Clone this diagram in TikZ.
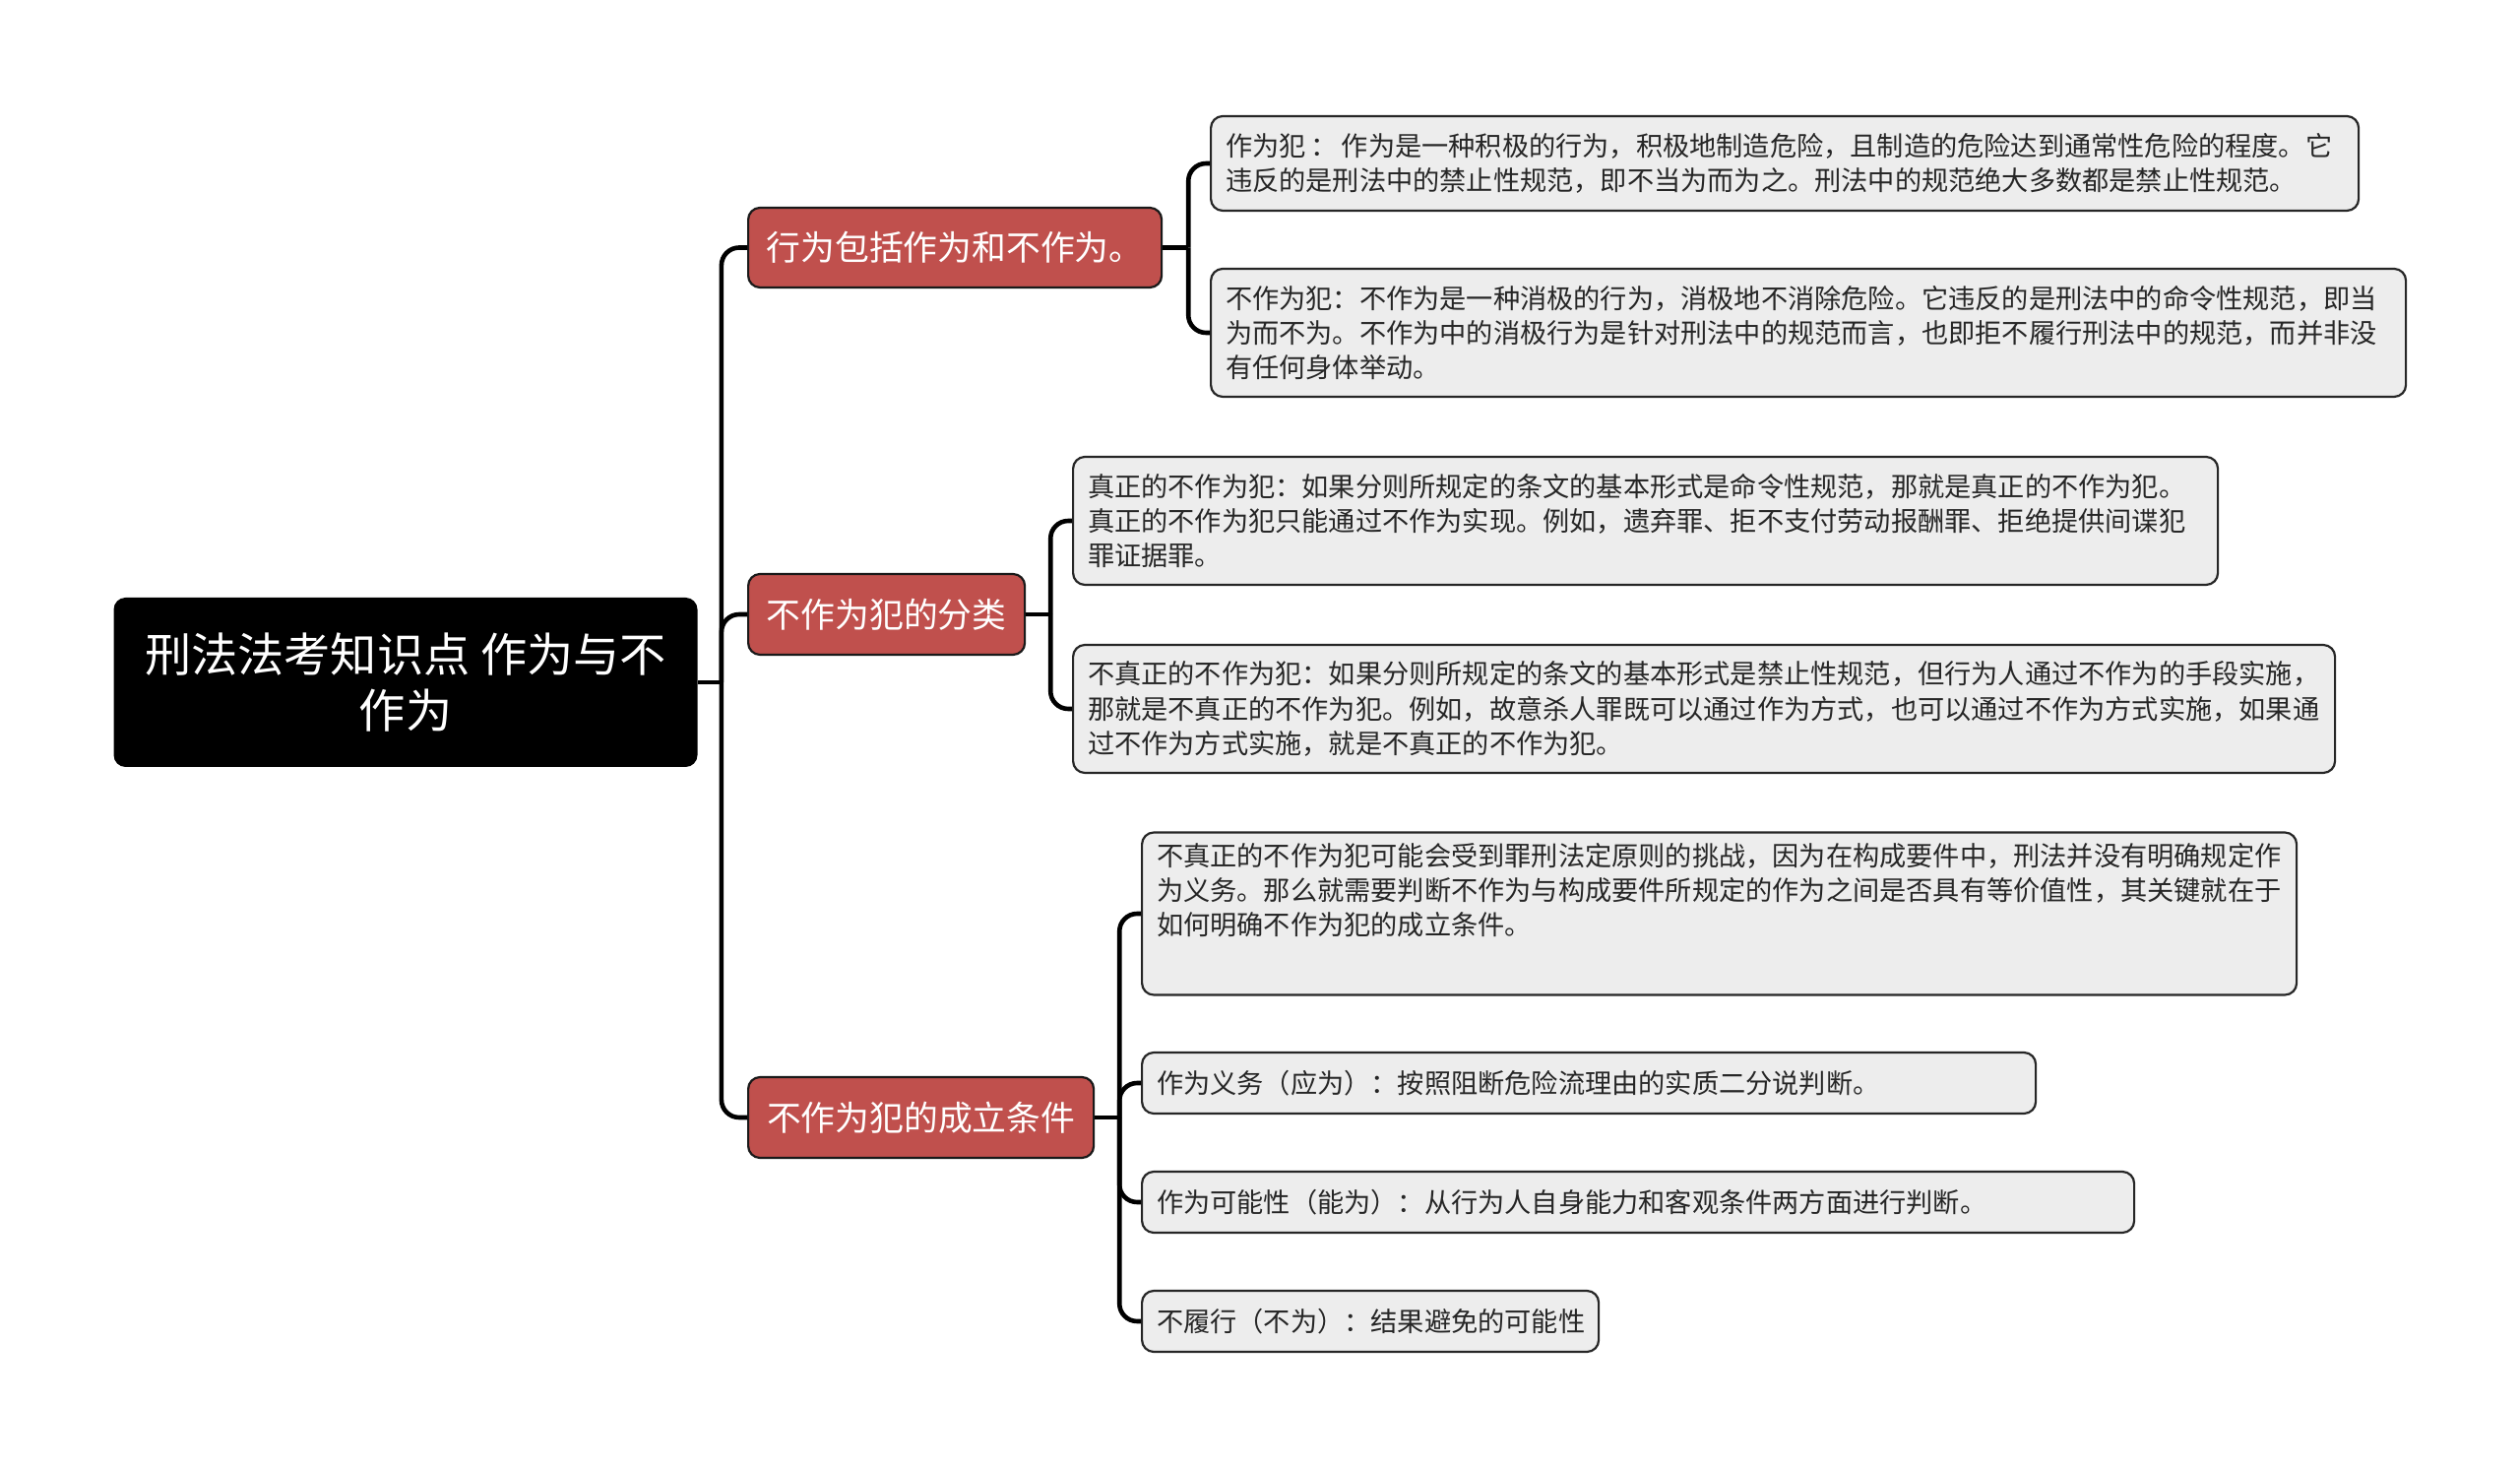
\documentclass[tikz,border=0pt]{standalone}
\usepackage{fontspec}
\setmainfont{Noto Sans CJK SC}

\definecolor{branchred}{HTML}{C0504D}
\definecolor{leafgray}{HTML}{EDEDED}

\tikzset{
    rootbox/.style={fill=black, rounded corners=6pt, text=white, align=center,
        font=\fontsize{23.6}{28.5}\selectfont, inner sep=0pt},
    branchbox/.style={draw=black!90, line width=1.1pt, fill=branchred, rounded corners=6pt,
        text=white, font=\fontsize{17.4}{20}\selectfont, inner sep=0pt, anchor=west},
    leafbox/.style={draw=black!85, line width=1.1pt, fill=leafgray, rounded corners=6pt,
        text=black!85, font=\fontsize{13.6}{17.6}\selectfont, align=left,
        inner xsep=7.5pt, inner ysep=0pt, anchor=west},
    conn/.style={line width=2.3pt, rounded corners=9pt},
}

\begin{document}
\begin{tikzpicture}[x=0.5pt, y=-0.5pt]
        \useasboundingbox (0,0) rectangle (2560,1491);

        % root and first level
        \node[rootbox, minimum width=296.5pt, minimum height=86pt] (root) at (412,693)
            {刑法法考知识点 作为与不\\作为};
        \node[branchbox, minimum width=210pt, minimum height=40.5pt] (b1) at (759,251.5) {行为包括作为和不作为。};
        \node[branchbox, minimum width=140.5pt, minimum height=41pt] (b2) at (759,624) {不作为犯的分类};
        \node[branchbox, minimum width=175.5pt, minimum height=41pt] (b3) at (759,1135) {不作为犯的成立条件};

        % leaves of b1
        \node[leafbox, text width=568pt, minimum height=48pt] (zuowei) at (1229,166)
            {作为犯\,：\,作为是一种积极的行为，积极地制造危险，且制造的危险达到通常性危险的程度。它\\
             违反的是刑法中的禁止性规范，即不当为而为之。刑法中的规范绝大多数都是禁止性规范。};
        \node[leafbox, text width=592pt, minimum height=65pt] (buzuowei) at (1229,338)
            {不作为犯：不作为是一种消极的行为，消极地不消除危险。它违反的是刑法中的命令性规范，即当\\
             为而不为。不作为中的消极行为是针对刑法中的规范而言，也即拒不履行刑法中的规范，而并非没\\
             有任何身体举动。};

        % leaves of b2
        \node[leafbox, text width=566.5pt, minimum height=65pt] (zhenzheng) at (1089,529)
            {真正的不作为犯：如果分则所规定的条文的基本形式是命令性规范，那就是真正的不作为犯。\\
             真正的不作为犯只能通过不作为实现。例如，遗弃罪、拒不支付劳动报酬罪、拒绝提供间谍犯\\
             罪证据罪。};
        \node[leafbox, text width=626pt, minimum height=65pt] (buzhenzheng) at (1089,720)
            {不真正的不作为犯：如果分则所规定的条文的基本形式是禁止性规范，但行为人通过不作为的手段实施，\\
             那就是不真正的不作为犯。例如，故意杀人罪既可以通过作为方式，也可以通过不作为方式实施，如果通\\
             过不作为方式实施，就是不真正的不作为犯。};

        % leaves of b3
        \node[leafbox, text width=571.5pt, minimum height=82.5pt] (tiaozhan) at (1159,928)
            {不真正的不作为犯可能会受到罪刑法定原则的挑战，因为在构成要件中，刑法并没有明确规定作\\
             为义务。那么就需要判断不作为与构成要件所规定的作为之间是否具有等价值性，其关键就在于\\
             如何明确不作为犯的成立条件。\\[2pt] \strut};
        \node[leafbox, text width=439pt, minimum height=31pt] (yingwei) at (1159,1100)
            {作为义务（应为）：按照阻断危险流理由的实质二分说判断。};
        \node[leafbox, text width=489pt, minimum height=31pt] (nengwei) at (1159,1221)
            {作为可能性（能为）：从行为人自身能力和客观条件两方面进行判断。};
        \node[leafbox, text width=217pt, minimum height=31pt] (buwei) at (1159,1342)
            {不履行（不为）：结果避免的可能性};

        % connectors
        \coordinate (j0) at ([xshift=12pt]root.east);
        \coordinate (j1) at ([xshift=13pt]b1.east);
        \coordinate (j2) at ([xshift=12.5pt]b2.east);
        \coordinate (j3) at ([xshift=12.5pt]b3.east);
        \draw[conn] (root.east) -- (j0);
        \foreach \b in {b1,b2,b3}
            \draw[conn] (j0) |- (\b.west);
        \draw[conn] (b1.east) -- (j1);
        \foreach \l in {zuowei,buzuowei}
            \draw[conn] (j1) |- (\l.west);
        \draw[conn] (b2.east) -- (j2);
        \foreach \l in {zhenzheng,buzhenzheng}
            \draw[conn] (j2) |- (\l.west);
        \draw[conn] (b3.east) -- (j3);
        \foreach \l in {tiaozhan,yingwei,nengwei,buwei}
            \draw[conn] (j3) |- (\l.west);
    \end{tikzpicture}
\end{document}
